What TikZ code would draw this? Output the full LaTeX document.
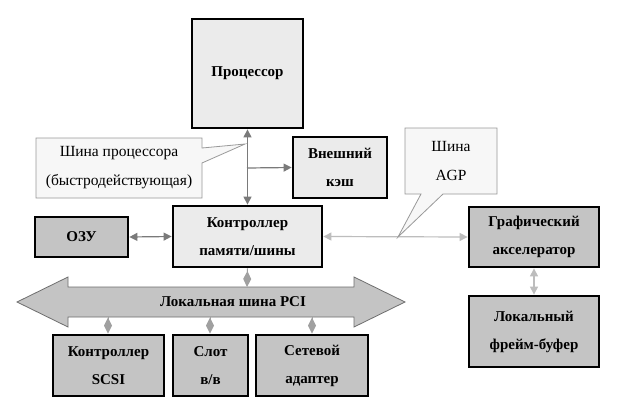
\documentclass[tikz,border=0pt]{standalone}
\usepackage{fontspec}
\setmainfont{Liberation Serif}
\usetikzlibrary{arrows.meta}
\definecolor{lightfill}{HTML}{EBEBEB}
\definecolor{darkfill}{HTML}{C4C4C4}
\definecolor{callfill}{HTML}{F7F7F7}
\definecolor{darkarrow}{HTML}{7A7A7A}
\definecolor{lightarrow}{HTML}{BDBDBD}
\definecolor{diamondc}{HTML}{A0A0A0}
\definecolor{pciborder}{HTML}{6E6E6E}
\begin{document}
\begin{tikzpicture}[x=1pt,y=-1pt,
  box/.style={draw=black, line width=2.8pt, align=center, inner sep=0pt,
    font=\bfseries\fontsize{15}{28}\selectfont},
  lightbox/.style={box, fill=lightfill},
  darkbox/.style={box, fill=darkfill},
  calltext/.style={align=center, inner sep=0pt, font=\fontsize{15.5}{29}\selectfont},
  callshape/.style={draw=gray!80, fill=callfill, line width=0.8pt, line join=miter},
  darrow/.style={draw=darkarrow, line width=1.2pt, {Triangle[length=8pt,width=8pt]}-{Triangle[length=8pt,width=8pt]}},
  darrowone/.style={draw=darkarrow, line width=1.2pt, -{Triangle[length=8pt,width=8pt]}},
  larrow/.style={draw=lightarrow, line width=1.2pt, {Triangle[length=8pt,width=8pt]}-{Triangle[length=8pt,width=8pt]}},
  dconn/.style={draw=diamondc, fill=diamondc, line width=1pt, -{Diamond[length=16pt,width=8pt]}},
]
\useasboundingbox (0,0) rectangle (624,412);
\fill[white] (0,0) rectangle (624,412);

% boxes
\node[lightbox, minimum width=111pt, minimum height=109pt] (proc) at (247.5,73.5) {Процессор};
\node[lightbox, minimum width=94pt, minimum height=61pt] (cache) at (340,167.5) {Внешний\\кэш};
\node[lightbox, minimum width=149pt, minimum height=61pt] (ctrl) at (247.5,236.5) {Контроллер\\памяти/шины};
\node[darkbox, minimum width=93pt, minimum height=40pt] (ozu) at (81.5,237) {ОЗУ};
\node[darkbox, minimum width=130pt, minimum height=60pt] (gfx) at (534,237) {Графический\\акселератор};
\node[darkbox, minimum width=130pt, minimum height=71pt] (fb) at (534,331.5) {Локальный\\фрейм-буфер};
\node[darkbox, minimum width=111pt, minimum height=61pt] (scsi) at (108.5,365.5) {Контроллер\\SCSI};
\node[darkbox, minimum width=75pt, minimum height=61pt] (slot) at (210.5,365.5) {Слот\\в/в};
\node[darkbox, minimum width=112pt, minimum height=61pt] (net) at (312,365.5) {Сетевой\\адаптер};

% processor bus
\coordinate (br) at (247,168);
\draw[darrow] (proc.south) -- (ctrl.north);
\draw[darrowone] (br) -- (cache.west);
\draw[darrow] (ozu.east) -- (ctrl.west);

% AGP
\draw[larrow] (ctrl.east) -- (gfx.west);
\draw[larrow] (gfx.south) -- (fb.north);

% callouts
\coordinate (tip1) at (245,144);
\draw[callshape] (36,138) -- (202,138) -- (202,148) -- (tip1) -- (202,163) -- (202,198) -- (36,198) -- cycle;
\node[calltext] (cl1) at (119,168) {Шина процессора\\(быстродействующая)};
\coordinate (tip2) at (398,237);
\draw[callshape] (405,128) -- (497,128) -- (497,194) -- (443,194) -- (tip2) -- (421,194) -- (405,194) -- cycle;
\node[calltext] (cl2) at (451,161) {Шина\\AGP};

% PCI bus arrow
\draw[draw=pciborder, fill=darkfill, line width=0.8pt, line join=miter]
  (17,302) -- (68,277) -- (68,287) -- (354,287) -- (354,277) -- (405,302)
  -- (354,327) -- (354,317) -- (68,317) -- (68,327) -- cycle;
\node[font=\bfseries\fontsize{15}{18}\selectfont] (pci) at (233,302) {Локальная шина PCI};

% diamond connectors
\coordinate (pt0) at (247,287);
\coordinate (pb1) at (108,317);
\coordinate (pb2) at (210,317);
\coordinate (pb3) at (312,317);
\draw[dconn] (ctrl.south) -- (pt0);
\draw[dconn] (pb1) -- (scsi.north -| pb1);
\draw[dconn] (pb2) -- (slot.north -| pb2);
\draw[dconn] (pb3) -- (net.north -| pb3);
\end{tikzpicture}
\end{document}
